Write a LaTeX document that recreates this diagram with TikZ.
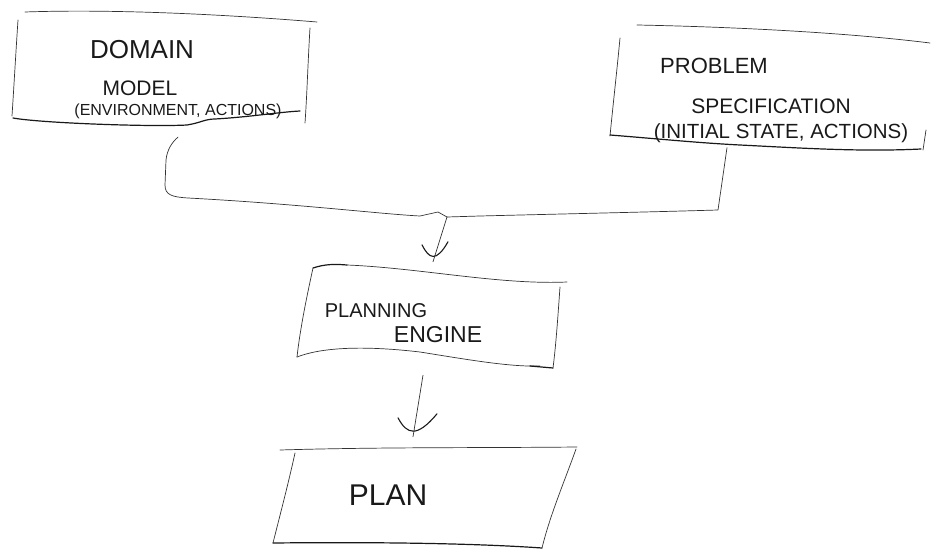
\documentclass[tikz,border=0pt]{standalone}
\usepackage{fontspec}
\setmainfont{Liberation Sans}
\begin{document}
\begin{tikzpicture}[x=1pt,y=-1pt,
  pen/.style={line width=0.7pt,draw=black!80,line join=round,line cap=round},
  heavy/.style={line width=1.2pt,draw=black!90,line join=round,line cap=round},
  vee/.style={line width=1.1pt,draw=black!90,line cap=round},
  holder/.style={draw=none,rectangle,inner sep=0pt},
  label/.style={inner sep=0pt,text=black!90}]
\useasboundingbox (0,0) rectangle (932,551);

% invisible holders for the four boxes
\node[holder,minimum width=295pt,minimum height=110pt] (dom)  at (162,70)  {};
\node[holder,minimum width=305pt,minimum height=115pt] (prob) at (772,90)  {};
\node[holder,minimum width=260pt,minimum height=100pt] (eng)  at (430,317) {};
\node[holder,minimum width=300pt,minimum height=100pt] (plan) at (425,497) {};

% domain model box
\draw[pen] (25,12) .. controls (110,9) and (220,14) .. (317,22);
\draw[pen] (18,20) .. controls (16,50) and (14,85) .. (12,116);
\draw[pen] (310,28) .. controls (308,60) and (307,95) .. (305,123);
\draw[heavy] (13,118) .. controls (40,123) and (150,127) .. (187,125)
  .. controls (200,123) and (205,119) .. (215,119) .. controls (250,117) and (280,112) .. (300,111);

% problem specification box
\draw[pen] (637,25) .. controls (740,27) and (850,33) .. (930,43);
\draw[pen] (620,38) .. controls (617,70) and (613,105) .. (610,136);
\draw[heavy] (610,135) .. controls (660,139) and (700,143) .. (740,145)
  .. controls (800,148) and (860,152) .. (921,149);
\draw[pen] (926,130) -- (923,150);

% planning engine box
\draw[heavy] (313,268) .. controls (325,264) and (335,264) .. (347,265);
\draw[pen] (347,265) .. controls (420,268) and (500,285) .. (567,282);
\draw[pen] (313,268) .. controls (306,300) and (300,330) .. (297,357);
\draw[pen] (297,357) .. controls (320,348) and (360,345) .. (420,352)
  .. controls (470,360) and (510,367) .. (540,366);
\draw[heavy] (530,366) -- (553,368);
\draw[pen] (560,287) .. controls (558,315) and (556,345) .. (553,368);

% plan box
\draw[pen] (280,450) .. controls (380,447) and (480,448) .. (577,447);
\draw[pen] (295,453) .. controls (288,485) and (280,515) .. (273,543);
\draw[heavy] (273,543) .. controls (370,542) and (470,543) .. (542,548);
\draw[pen] (576,449) .. controls (565,480) and (550,515) .. (542,548);

% box texts
\node[label,font=\fontsize{26}{28}\selectfont] (domA) at (142,50) {DOMAIN};
\node[label,font=\fontsize{21}{23}\selectfont] (domB) at (140,88) {MODEL};
\node[label,font=\fontsize{16}{18}\selectfont] (domC) at (178,111) {(ENVIRONMENT, ACTIONS)};
\node[label,font=\fontsize{22}{24}\selectfont] (probA) at (714,66) {PROBLEM};
\node[label,font=\fontsize{21}{23}\selectfont] (probB) at (771,106) {SPECIFICATION};
\node[label,font=\fontsize{20.5}{22}\selectfont] (probC) at (781,133) {(INITIAL STATE, ACTIONS)};
\node[label,font=\fontsize{20}{22}\selectfont] (engA) at (376,311) {PLANNING};
\node[label,font=\fontsize{23}{25}\selectfont] (engB) at (438,335) {ENGINE};
\node[label,font=\fontsize{30}{32}\selectfont] (planA) at (388,495) {PLAN};

% the two inputs merge into one line that feeds the engine
\coordinate (join) at (447,217);
\coordinate (tipA) at ([xshift=3pt,yshift=5pt]eng.north);
\coordinate (tipB) at ([xshift=-12pt,yshift=10pt]plan.north);
\draw[pen] ([xshift=16pt,yshift=-12pt]dom.south) .. controls (172,142) and (167,150) .. (166,160)
  -- (165,185) .. controls (165,195) and (172,197) .. (188,198)
  .. controls (300,204) and (380,214) .. (420,216) -- (438,212) -- (447,217);
\draw[pen] (join) -- (480,216) .. controls (560,214) and (650,212) .. (718,210)
  -- ([xshift=-45pt]prob.south);
\draw[pen] (join) -- (tipA);
\draw[vee] ([shift={(-11,-17)}]tipA) .. controls ([shift={(-4,-3)}]tipA) and ([shift={(3,1)}]tipA) .. ([shift={(15,-20)}]tipA);

% engine output to plan
\draw[pen] ([xshift=-7pt,yshift=-8pt]eng.south) -- (tipB);
\draw[vee] ([shift={(-15,-19)}]tipB) .. controls ([shift={(-6,-2)}]tipB) and ([shift={(4,1)}]tipB) .. ([shift={(24,-23)}]tipB);
\end{tikzpicture}
\end{document}
